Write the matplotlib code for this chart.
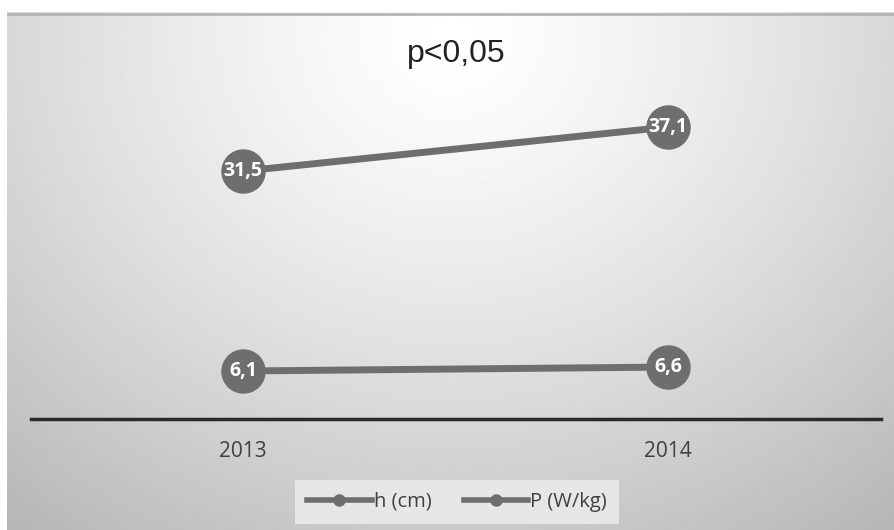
import numpy as np
import matplotlib
matplotlib.use("Agg")
import matplotlib.pyplot as plt
from matplotlib.lines import Line2D

# data
years = ["2013", "2014"]
h_cm = [6.1, 6.6]
p_wkg = [31.5, 37.1]
h_labels = ["6,1", "6,6"]
p_labels = ["31,5", "37,1"]
series_names = ["h (cm)", "P (W/kg)"]

W, H = 894, 530
fig = plt.figure(figsize=(W / 100, H / 100), dpi=100)
fig.patch.set_facecolor("white")

# radial gradient background panel
bg = fig.add_axes([7 / W, 0, 887 / W, (H - 12) / H])
yy, xx = np.mgrid[0:1:300j, 0:1:500j]
r = np.sqrt(((xx - 0.5) / 0.7) ** 2 + ((yy - 0.05) / 1.05) ** 2)
shade = 1.0 - 0.24 * np.clip(r, 0, 1.2) ** 1.3
bg.imshow(shade, cmap="gray", vmin=0, vmax=1, aspect="auto",
          extent=[0, 1, 1, 0], interpolation="bilinear")
bg.plot([0, 1], [0.003, 0.003], color="#b5b5b5", lw=2)
bg.set_xlim(0, 1)
bg.set_ylim(1, 0)
bg.axis("off")

ax = fig.add_axes([30.5 / W, 1 - 419 / H, 850 / W, (419 - 25.5) / H])
ax.patch.set_alpha(0)
x = np.arange(len(years))
col = "#6e6e6e"
for vals, labs in [(h_cm, h_labels), (p_wkg, p_labels)]:
    ax.plot(x, vals, color=col, lw=5, marker="o", markersize=31,
            markerfacecolor=col, markeredgecolor=col, zorder=3)
    for xi, v, lab in zip(x, vals, labs):
        ax.text(xi, v, lab, color="white", fontsize=14, fontweight="bold",
                ha="center", va="center", zorder=4, family="Open Sans")

ax.set_xlim(-0.5, 1.5)
ax.set_ylim(0, 50)
ax.set_xticks(x)
ax.set_xticklabels(years, fontsize=15, color="#404040", family="Open Sans")
ax.tick_params(axis="x", length=0, pad=16)
ax.set_yticks([])
for s in ["top", "right", "left"]:
    ax.spines[s].set_visible(False)
ax.spines["bottom"].set_color("#2a2a2a")
ax.spines["bottom"].set_linewidth(2.5)

fig.text(456 / W, 1 - 62 / H, "p<0,05", fontsize=23, ha="center", va="baseline",
         color="#222222", family="Liberation Sans")

handles = [Line2D([], [], color=col, lw=4, marker="o", markersize=8) for _ in series_names]
leg = fig.legend(handles, series_names, loc="center", bbox_to_anchor=(457 / W, 1 - 502 / H),
                 ncol=2, frameon=True, handlelength=3.2, columnspacing=1.6,
                 handletextpad=0.1, borderpad=0.15, prop={"family": "Open Sans", "size": 14.5})
leg.get_frame().set_facecolor("#eeeeee")
leg.get_frame().set_edgecolor("none")
leg.get_frame().set_boxstyle("square", pad=0.45)
for t in leg.get_texts():
    t.set_color("#404040")

fig.savefig("out.png", dpi=100)
